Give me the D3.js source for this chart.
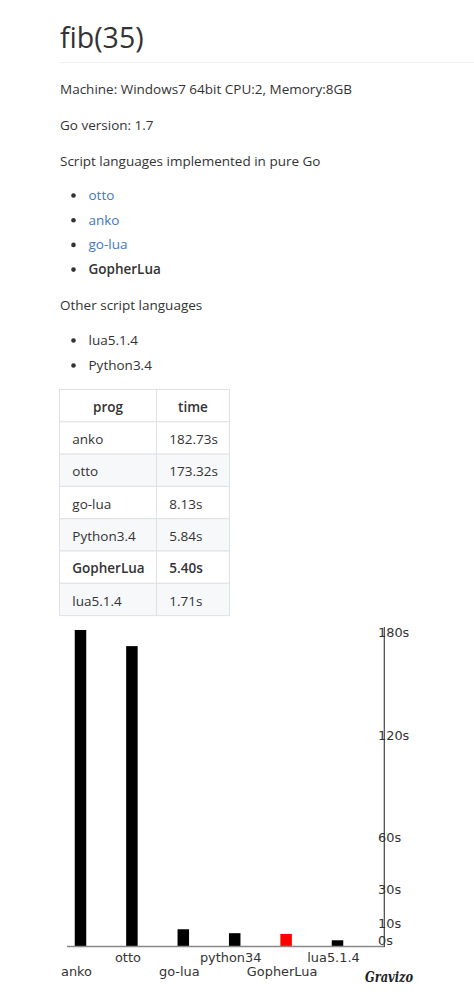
<!DOCTYPE html>
<html>
<head>
<meta charset="utf-8">
<script src="https://cdn.jsdelivr.net/npm/d3@7"></script>
<style>
  html, body { margin: 0; padding: 0; background: #fff; }
  svg { display: block; }
</style>
</head>
<body>
<div id="chart"></div>
<script>
// ---- data ----
const pageTitle = "fib(35)";
const paragraphs = ["Machine: Windows7 64bit CPU:2, Memory:8GB", "Go version: 1.7", "Script languages implemented in pure Go"];
const goLangs = ["otto", "anko", "go-lua", "GopherLua"];
const goLangLinks = [true, true, true, false];
const otherHeading = "Other script languages";
const otherLangs = ["lua5.1.4", "Python3.4"];
const tableHeader = ["prog", "time"];
const tableProgs = ["anko", "otto", "go-lua", "Python3.4", "GopherLua", "lua5.1.4"];
const tableTimes = ["182.73s", "173.32s", "8.13s", "5.84s", "5.40s", "1.71s"];
const tableBold = [false, false, false, false, true, false];
const chartLabels = ["anko", "otto", "go-lua", "python34", "GopherLua", "lua5.1.4"];
const chartValues = [182.73, 173.32, 8.13, 5.84, 5.40, 1.71];
const highlight = "GopherLua";
const yTicks = [0, 10, 30, 60, 120, 180];
const brand = "Gravizo";

// ---- drawing ----
const W = 474, H = 995;
const svg = d3.select("#chart").append("svg").attr("width", W).attr("height", H);
const mdFont = "'Open Sans', 'Noto Sans', sans-serif";
const mdSize = 13.5;
const textColor = "#333";
const linkColor = "#4078c0";

// title + rule
svg.append("text").attr("x", 60).attr("y", 48).attr("font-family", mdFont)
  .attr("font-size", 28.5).attr("fill", textColor).text(pageTitle);
svg.append("line").attr("x1", 60).attr("x2", W).attr("y1", 62.5).attr("y2", 62.5)
  .attr("stroke", "#eee").attr("stroke-width", 1);

// paragraphs
const paraY = [94, 130, 165.5];
svg.selectAll("text.para").data(paragraphs).join("text").attr("class", "para")
  .attr("x", 60).attr("y", (d, i) => paraY[i]).attr("font-family", mdFont)
  .attr("font-size", mdSize).attr("fill", textColor).text(d => d);

function bulletList(items, y0, step, isLink, isBold) {
  const g = svg.append("g");
  items.forEach((d, i) => {
    const y = y0 + i * step;
    g.append("circle").attr("cx", 73.5).attr("cy", y - 4.5).attr("r", 2.3).attr("fill", textColor);
    g.append("text").attr("x", 88.5).attr("y", y).attr("font-family", mdFont)
      .attr("font-size", mdSize).attr("font-weight", isBold(i) ? 600 : 400)
      .attr("fill", isLink(i) ? linkColor : textColor).text(d);
  });
}
bulletList(goLangs, 200, 24.7, i => goLangLinks[i], i => !goLangLinks[i]);
svg.append("text").attr("x", 60).attr("y", 310).attr("font-family", mdFont)
  .attr("font-size", mdSize).attr("fill", textColor).text(otherHeading);
bulletList(otherLangs, 345, 25, () => false, () => false);

// table
const tTop = 389.5, rowH = 32.3, colX = [59.5, 156.5, 229.5];
const tRows = [tableHeader].concat(tableProgs.map((p, i) => [p, tableTimes[i]]));
const tg = svg.append("g");
tRows.forEach((r, i) => {
  const y = tTop + i * rowH;
  tg.append("rect").attr("x", colX[0]).attr("y", y).attr("width", colX[2] - colX[0]).attr("height", rowH)
    .attr("fill", (i > 0 && i % 2 === 0) ? "#f6f8fa" : "#fff")
    .attr("stroke", "#dfe2e5").attr("stroke-width", 1);
  tg.append("line").attr("x1", colX[1]).attr("x2", colX[1]).attr("y1", y).attr("y2", y + rowH)
    .attr("stroke", "#dfe2e5");
  r.forEach((c, j) => {
    const header = i === 0;
    tg.append("text")
      .attr("x", header ? (colX[j] + colX[j + 1]) / 2 : colX[j] + 12.8)
      .attr("y", y + 22.3)
      .attr("text-anchor", header ? "middle" : "start")
      .attr("font-family", mdFont).attr("font-size", mdSize)
      .attr("font-weight", (header || tableBold[i - 1]) ? 600 : 400)
      .attr("fill", textColor).text(c);
  });
});

// bar chart
const chartFont = "'DejaVu Sans', sans-serif";
const baseY = 946.6;
const x = d3.scalePoint().domain(chartLabels).range([80.5, 337.5]);
const y = d3.scaleLinear().domain([0, 180]).range([943.2, 943.2 - 180 * 1.714]);
const barW = 11.5;
const cg = svg.append("g");

cg.selectAll("rect.bar").data(chartLabels).join("rect").attr("class", "bar")
  .attr("x", d => x(d) - barW / 2)
  .attr("y", (d, i) => y(chartValues[i]))
  .attr("width", barW)
  .attr("height", (d, i) => baseY - y(chartValues[i]))
  .attr("fill", d => d === highlight ? "#f00" : "#000");

cg.append("line").attr("x1", 67).attr("x2", 384.5).attr("y1", baseY).attr("y2", baseY)
  .attr("stroke", "#888").attr("stroke-width", 1.5);
cg.append("line").attr("x1", 384.3).attr("x2", 384.3).attr("y1", 627).attr("y2", baseY + 0.5)
  .attr("stroke", "#444").attr("stroke-width", 1.2);

cg.selectAll("text.ytick").data(yTicks).join("text").attr("class", "ytick")
  .attr("x", 378).attr("y", d => y(d) + 2)
  .attr("font-family", chartFont).attr("font-size", 12.9).attr("fill", "#333")
  .text(d => d + "s");

cg.selectAll("text.xlab").data(chartLabels).join("text").attr("class", "xlab")
  .attr("x", d => x(d) - 4)
  .attr("y", (d, i) => i % 2 === 0 ? 976 : 962)
  .attr("text-anchor", "middle")
  .attr("font-family", chartFont).attr("font-size", 12.9).attr("fill", "#333")
  .text(d => d);

svg.append("text").attr("x", 365).attr("y", 982)
  .attr("textLength", 48).attr("lengthAdjust", "spacingAndGlyphs")
  .attr("font-family", "'DejaVu Serif', serif").attr("font-style", "italic").attr("font-weight", 700)
  .attr("font-size", 15).attr("fill", "#222").text(brand);
</script>
</body>
</html>
